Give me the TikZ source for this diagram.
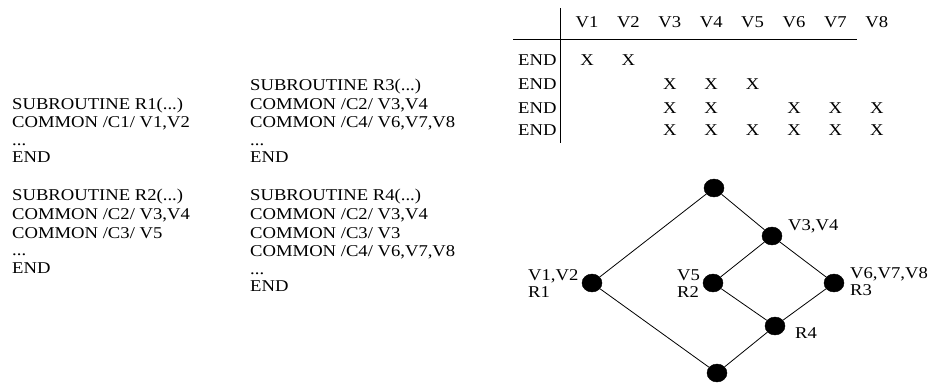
\documentclass[tikz,border=0pt]{standalone}
\usepackage{fontspec}
\setmainfont{Liberation Serif}[FakeStretch=1.13]
\usetikzlibrary{shapes.geometric}
\begin{document}
\begin{tikzpicture}[x=1pt,y=-1pt,
  txt/.style={font=\fontsize{16.5}{17.3}\selectfont, inner sep=0pt, anchor=base west},
  cell/.style={font=\fontsize{16.5}{17.3}\selectfont, inner sep=0pt, anchor=base},
  dot/.style={ellipse, fill=black, draw=black, minimum width=20pt, minimum height=18pt, inner sep=0pt},
  link/.style={line width=0.8pt},
  rule/.style={line width=0.8pt}]
\useasboundingbox (0,0) rectangle (932,383);
% ---- left column, block 1
\node[txt] (a0) at (12,109)   {SUBROUTINE R1(...)};
\node[txt] (a1) at (12,127.8) {COMMON /C1/ V1,V2};
\node[txt] (a2) at (12,145.3) {...};
\node[txt] (a3) at (12,162.8) {END};
% ---- left column, block 2
\node[txt] (b0) at (12,200.5) {SUBROUTINE R2(...)};
\node[txt] (b1) at (12,219.3) {COMMON /C2/ V3,V4};
\node[txt] (b2) at (12,238.1) {COMMON /C3/ V5};
\node[txt] (b3) at (12,255.6) {...};
\node[txt] (b4) at (12,273.1) {END};
% ---- middle column, block 1
\node[txt] (c0) at (250,90.2)  {SUBROUTINE R3(...)};
\node[txt] (c1) at (250,109)   {COMMON /C2/ V3,V4};
\node[txt] (c2) at (250,127.8) {COMMON /C4/ V6,V7,V8};
\node[txt] (c3) at (250,145.3) {...};
\node[txt] (c4) at (250,162.8) {END};
% ---- middle column, block 2
\node[txt] (d0) at (250,200.5) {SUBROUTINE R4(...)};
\node[txt] (d1) at (250,219.3) {COMMON /C2/ V3,V4};
\node[txt] (d2) at (250,238.1) {COMMON /C3/ V3};
\node[txt] (d3) at (250,256.9) {COMMON /C4/ V6,V7,V8};
\node[txt] (d4) at (250,274.4) {...};
\node[txt] (d5) at (250,291.9) {END};
% ---- table
\foreach \i in {1,...,8}
  \node[cell] (h\i) at ({587+41.4*(\i-1)},27) {V\i};
\node[txt] (e1) at (518,65) {END};
\node[txt] (e2) at (518,89) {END};
\node[txt] (e3) at (518,113) {END};
\node[txt] (e4) at (518,135.5) {END};
\foreach \c in {1,2} \node[cell] (x1\c) at ({587+41.4*(\c-1)},65) {X};
\foreach \c in {3,4,5} \node[cell] (x2\c) at ({587+41.4*(\c-1)},89) {X};
\foreach \c in {3,4,6,7,8} \node[cell] (x3\c) at ({587+41.4*(\c-1)},113) {X};
\foreach \c in {3,4,5,6,7,8} \node[cell] (x4\c) at ({587+41.4*(\c-1)},135.5) {X};
\coordinate (vt) at (560,8);
\coordinate (vb) at (560,143);
\coordinate (hl) at (513,39.5);
\coordinate (hr) at (857,39.5);
\draw[rule] (vt) -- (vb);
\draw[rule] (hl) -- (hr);
% ---- lattice
\node[dot] (top) at (714,188) {};
\node[dot] (v34) at (772,236) {};
\node[dot] (v12) at (592,283) {};
\node[dot] (v5)  at (713,283) {};
\node[dot] (v678) at (834,283) {};
\node[dot] (r4)  at (775,326) {};
\node[dot] (bot) at (717,373) {};
\draw[link] (top) -- (v12);
\draw[link] (top) -- (v34);
\draw[link] (v34) -- (v5);
\draw[link] (v34) -- (v678);
\draw[link] (v5) -- (r4);
\draw[link] (v678) -- (r4);
\draw[link] (r4) -- (bot);
\draw[link] (v12) -- (bot);
% ---- lattice labels
\node[txt] (lv34) at (788,230) {V3,V4};
\node[txt] (lv12) at (528,280) {V1,V2};
\node[txt] (lr1)  at (528,297) {R1};
\node[txt] (lv5)  at (677,280) {V5};
\node[txt] (lr2)  at (677,297) {R2};
\node[txt] (lv678) at (850,278) {V6,V7,V8};
\node[txt] (lr3)  at (850,295) {R3};
\node[txt] (lr4)  at (795,338) {R4};
\end{tikzpicture}
\end{document}
